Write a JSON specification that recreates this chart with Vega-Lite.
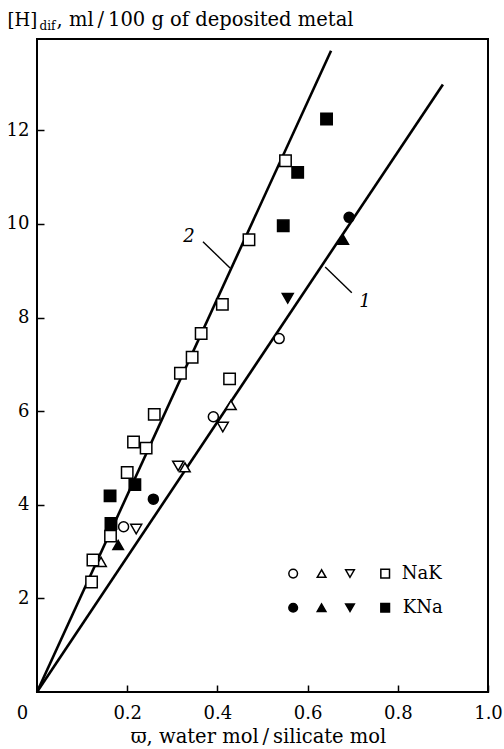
{
  "$schema": "https://vega.github.io/schema/vega-lite/v6.json",
  "width": 451,
  "height": 653,
  "autosize": {"type": "none"},
  "padding": {"left": 37, "top": 39, "right": 16, "bottom": 57},
  "background": "white",
  "config": {
    "view": {"stroke": "black", "strokeWidth": 2},
    "font": "DejaVu Serif",
    "axis": {
      "domain": false, "grid": false,
      "labelFont": "DejaVu Serif", "labelFontSize": 18, "labelColor": "black",
      "tickColor": "black", "tickWidth": 1.5,
      "titleFont": "DejaVu Serif", "titleFontWeight": "normal", "titleColor": "black", "titleFontSize": 19.5
    }
  },
  "datasets": {
    "lines": [
      {"line": "1", "x": 0, "y": 0}, {"line": "1", "x": 0.9, "y": 12.98},
      {"line": "2", "x": 0, "y": 0}, {"line": "2", "x": 0.652, "y": 13.7}
    ],
    "leaders": [
      {"id": "1", "x": 0.639, "y": 9.08}, {"id": "1", "x": 0.698, "y": 8.53},
      {"id": "2", "x": 0.368, "y": 9.62}, {"id": "2", "x": 0.428, "y": 9.06}
    ],
    "curveLabels": [
      {"text": "1", "x": 0.727, "y": 8.33},
      {"text": "2", "x": 0.337, "y": 9.72}
    ],
    "points": [
      {"series": "NaK", "shape": "circle", "x": 0.192, "y": 3.53},
      {"series": "NaK", "shape": "circle", "x": 0.391, "y": 5.88},
      {"series": "NaK", "shape": "circle", "x": 0.537, "y": 7.55},
      {"series": "NaK", "shape": "triangle-up", "x": 0.142, "y": 2.78},
      {"series": "NaK", "shape": "triangle-up", "x": 0.328, "y": 4.80},
      {"series": "NaK", "shape": "triangle-up", "x": 0.430, "y": 6.13},
      {"series": "NaK", "shape": "triangle-down", "x": 0.220, "y": 3.48},
      {"series": "NaK", "shape": "triangle-down", "x": 0.313, "y": 4.83},
      {"series": "NaK", "shape": "triangle-down", "x": 0.412, "y": 5.66},
      {"series": "NaK", "shape": "square", "x": 0.121, "y": 2.35},
      {"series": "NaK", "shape": "square", "x": 0.124, "y": 2.82},
      {"series": "NaK", "shape": "square", "x": 0.163, "y": 3.33},
      {"series": "NaK", "shape": "square", "x": 0.200, "y": 4.69},
      {"series": "NaK", "shape": "square", "x": 0.214, "y": 5.34},
      {"series": "NaK", "shape": "square", "x": 0.242, "y": 5.21},
      {"series": "NaK", "shape": "square", "x": 0.260, "y": 5.93},
      {"series": "NaK", "shape": "square", "x": 0.318, "y": 6.81},
      {"series": "NaK", "shape": "square", "x": 0.344, "y": 7.15},
      {"series": "NaK", "shape": "square", "x": 0.364, "y": 7.66},
      {"series": "NaK", "shape": "square", "x": 0.411, "y": 8.28},
      {"series": "NaK", "shape": "square", "x": 0.427, "y": 6.69},
      {"series": "NaK", "shape": "square", "x": 0.470, "y": 9.66},
      {"series": "NaK", "shape": "square", "x": 0.551, "y": 11.35},
      {"series": "KNa", "shape": "circle", "x": 0.258, "y": 4.12},
      {"series": "KNa", "shape": "circle", "x": 0.692, "y": 10.14},
      {"series": "KNa", "shape": "triangle-up", "x": 0.180, "y": 3.14},
      {"series": "KNa", "shape": "triangle-up", "x": 0.679, "y": 9.66},
      {"series": "KNa", "shape": "triangle-down", "x": 0.556, "y": 8.41},
      {"series": "KNa", "shape": "square", "x": 0.162, "y": 4.19},
      {"series": "KNa", "shape": "square", "x": 0.164, "y": 3.60},
      {"series": "KNa", "shape": "square", "x": 0.217, "y": 4.43},
      {"series": "KNa", "shape": "square", "x": 0.546, "y": 9.96},
      {"series": "KNa", "shape": "square", "x": 0.578, "y": 11.10},
      {"series": "KNa", "shape": "square", "x": 0.642, "y": 12.24}
    ],
    "legendSymbols": [
      {"series": "NaK", "shape": "circle", "x": 0.568, "y": 2.53},
      {"series": "NaK", "shape": "triangle-up", "x": 0.631, "y": 2.53},
      {"series": "NaK", "shape": "triangle-down", "x": 0.694, "y": 2.53},
      {"series": "NaK", "shape": "square", "x": 0.772, "y": 2.53},
      {"series": "KNa", "shape": "circle", "x": 0.568, "y": 1.80},
      {"series": "KNa", "shape": "triangle-up", "x": 0.631, "y": 1.80},
      {"series": "KNa", "shape": "triangle-down", "x": 0.694, "y": 1.80},
      {"series": "KNa", "shape": "square", "x": 0.772, "y": 1.80}
    ],
    "legendText": [
      {"text": "NaK", "x": 0.809, "y": 2.53},
      {"text": "KNa", "x": 0.811, "y": 1.80}
    ]
  },
  "resolve": {"axis": {"x": "independent", "y": "independent"}},
  "layer": [
    {
      "data": {"name": "lines"},
      "mark": {"type": "line", "color": "black", "strokeWidth": 2.6},
      "encoding": {
        "x": {
          "field": "x", "type": "quantitative",
          "scale": {"domain": [0, 1], "nice": false, "zero": false},
          "axis": {
            "orient": "bottom",
            "values": [0, 0.2, 0.4, 0.6, 0.8, 1.0],
            "tickSize": -7,
            "labelPadding": 19,
            "labelFlush": false,
            "labelExpr": "datum.value == 0 ? '0' : format(datum.value, '.1f')",
            "labelOffset": {"condition": {"test": "datum.value == 0", "value": -15}, "value": 0},
            "title": "ϖ, water mol\u2009/\u2009silicate mol",
            "titleBaseline": "alphabetic",
            "titleY": 50,
            "titleX": 221
          }
        },
        "y": {
          "field": "y", "type": "quantitative",
          "scale": {"domain": [0, 13.95], "nice": false, "zero": false},
          "axis": {
            "orient": "left",
            "values": [2, 4, 6, 8, 10, 12],
            "tickSize": -7,
            "labelPadding": 15,
            "title": "[H]",
            "titleFontSize": 18,
            "titleAngle": 0,
            "titleAlign": "left",
            "titleBaseline": "alphabetic",
            "titleX": -30,
            "titleY": -14
          }
        },
        "detail": {"field": "line"}
      }
    },
    {
      "data": {"name": "leaders"},
      "mark": {"type": "line", "color": "black", "strokeWidth": 1.4},
      "encoding": {
        "x": {
          "field": "x", "type": "quantitative",
          "axis": {
            "orient": "top", "ticks": false, "labels": false, "domain": false,
            "title": "dif", "titleFontSize": 12, "titleAngle": 0,
            "titleAlign": "left", "titleBaseline": "alphabetic",
            "titleX": 2, "titleY": -10
          }
        },
        "y": {
          "field": "y", "type": "quantitative",
          "axis": {
            "orient": "right", "ticks": false, "labels": false, "domain": false,
            "title": ", ml\u2009/\u2009100 g of deposited metal", "titleAngle": 0,
            "titleAlign": "left", "titleBaseline": "alphabetic",
            "titleX": -432, "titleY": -14
          }
        },
        "detail": {"field": "id"}
      }
    },
    {
      "data": {"name": "curveLabels"},
      "mark": {"type": "text", "font": "DejaVu Serif", "fontSize": 18, "fontStyle": "italic", "align": "center", "baseline": "middle", "color": "black"},
      "encoding": {
        "x": {"field": "x", "type": "quantitative", "axis": null},
        "y": {"field": "y", "type": "quantitative", "axis": null},
        "text": {"field": "text"}
      }
    },
    {
      "data": {"name": "points"},
      "mark": {"type": "point", "filled": false, "stroke": "black", "strokeWidth": 1.5, "opacity": 1},
      "encoding": {
        "x": {"field": "x", "type": "quantitative", "axis": null},
        "y": {"field": "y", "type": "quantitative", "axis": null},
        "shape": {
          "field": "shape", "type": "nominal", "legend": null,
          "scale": {"domain": ["circle", "triangle-up", "triangle-down", "square"], "range": ["circle", "triangle-up", "triangle-down", "square"]}
        },
        "size": {
          "field": "shape", "type": "nominal", "legend": null,
          "scale": {"domain": ["circle", "triangle-up", "triangle-down", "square"], "range": [100, 130, 130, 115]}
        },
        "fill": {
          "field": "series", "type": "nominal", "legend": null,
          "scale": {"domain": ["NaK", "KNa"], "range": ["white", "black"]}
        }
      }
    },
    {
      "data": {"name": "legendSymbols"},
      "mark": {"type": "point", "filled": false, "stroke": "black", "strokeWidth": 1.5, "opacity": 1},
      "encoding": {
        "x": {"field": "x", "type": "quantitative", "axis": null},
        "y": {"field": "y", "type": "quantitative", "axis": null},
        "shape": {"field": "shape", "type": "nominal", "legend": null},
        "size": {"value": 75},
        "fill": {"field": "series", "type": "nominal", "legend": null}
      }
    },
    {
      "data": {"name": "legendText"},
      "mark": {"type": "text", "font": "DejaVu Serif", "fontSize": 18, "align": "left", "baseline": "middle", "color": "black"},
      "encoding": {
        "x": {"field": "x", "type": "quantitative", "axis": null},
        "y": {"field": "y", "type": "quantitative", "axis": null},
        "text": {"field": "text"}
      }
    }
  ]
}
